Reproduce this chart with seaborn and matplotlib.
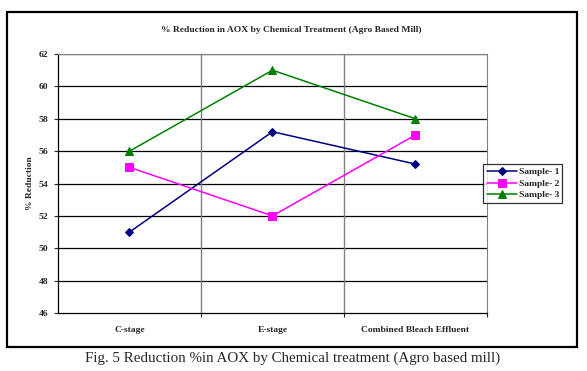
import matplotlib
matplotlib.use("Agg")
import matplotlib.pyplot as plt
import seaborn as sns
import pandas as pd
from matplotlib.patches import Rectangle

stages = ["C-stage", "E-stage", "Combined Bleach Effluent"]
sample_1 = [51.0, 57.2, 55.2]
sample_2 = [55.0, 52.0, 57.0]
sample_3 = [56.0, 61.0, 58.0]
series_names = ["Sample- 1", "Sample- 2", "Sample- 3"]
y_ticks = [46, 48, 50, 52, 54, 56, 58, 60, 62]

df = pd.DataFrame({
    "Stage": stages * 3,
    "Reduction": sample_1 + sample_2 + sample_3,
    "Sample": [n for n in series_names for _ in stages],
})

sns.set_style("white")
plt.rcParams["font.family"] = ["Liberation Serif", "DejaVu Serif"]

fig = plt.figure(figsize=(5.87, 3.71), dpi=100)
ax = fig.add_axes([0.0988, 0.1563, 0.7308, 0.6981])

palette = {"Sample- 1": "#000080", "Sample- 2": "#FF00FF", "Sample- 3": "#008000"}
markers = {"Sample- 1": "D", "Sample- 2": "s", "Sample- 3": "^"}
sizes = {"Sample- 1": 4, "Sample- 2": 6, "Sample- 3": 6}

# draw each sample so marker sizes can differ
for name in series_names:
    sub = df[df["Sample"] == name]
    sns.lineplot(data=sub, x="Stage", y="Reduction", color=palette[name],
                 marker=markers[name], markersize=sizes[name],
                 markeredgecolor=palette[name], linewidth=1.1,
                 label=name, ax=ax, sort=False)

ax.set_xlim(-0.5, 2.5)
ax.set_ylim(46, 62)
ax.set_yticks(y_ticks)
ax.set_yticklabels([str(t) for t in y_ticks], fontsize=6.8, fontweight="bold")
ax.set_xticks(range(len(stages)))
ax.set_xticklabels(stages, fontsize=6.8, fontweight="bold")
ax.tick_params(axis="x", length=0, pad=9)
ax.tick_params(axis="y", length=3, width=0.8, direction="out", left=True, pad=4)
ax.set_xticks([0.5, 1.5, 2.5], minor=True)
ax.tick_params(axis="x", which="minor", length=3, width=0.8, direction="out", bottom=True)

for y in y_ticks[1:]:
    ax.axhline(y, color="black", linewidth=0.9, zorder=0)
for x in [0.5, 1.5]:
    ax.axvline(x, color="#808080", linewidth=1.0, zorder=0)

for side in ["top", "right"]:
    ax.spines[side].set_color("#808080")
    ax.spines[side].set_linewidth(0.8)
for side in ["left", "bottom"]:
    ax.spines[side].set_color("black")
    ax.spines[side].set_linewidth(0.9)

ax.set_xlabel("")
ax.set_ylabel("% Reduction", fontsize=6.8, fontweight="bold", labelpad=3)

leg = ax.legend(loc="center left", bbox_to_anchor=(1.0, 0.0, 0.5, 1.0),
                bbox_transform=ax.transAxes, frameon=True, fancybox=False,
                prop={"size": 6.8, "weight": "bold"}, handlelength=3.2,
                borderpad=0.35, labelspacing=0.3, handletextpad=0.2,
                borderaxespad=-0.4)
leg.get_frame().set_edgecolor("black")
leg.get_frame().set_linewidth(0.9)

fig.text(0.497, 0.918, "% Reduction in AOX by Chemical Treatment (Agro Based Mill)",
         ha="center", va="center", fontsize=6.8, fontweight="bold")

fig.patches.append(Rectangle((0.0119, 0.0647), 0.971, 0.903, transform=fig.transFigure,
                             fill=False, edgecolor="black", linewidth=1.6))

fig.text(0.499, 0.035, "Fig. 5 Reduction %in AOX by Chemical treatment (Agro based mill)",
         ha="center", va="center", fontsize=10.8)

fig.savefig("out.png", dpi=100, facecolor="white")
